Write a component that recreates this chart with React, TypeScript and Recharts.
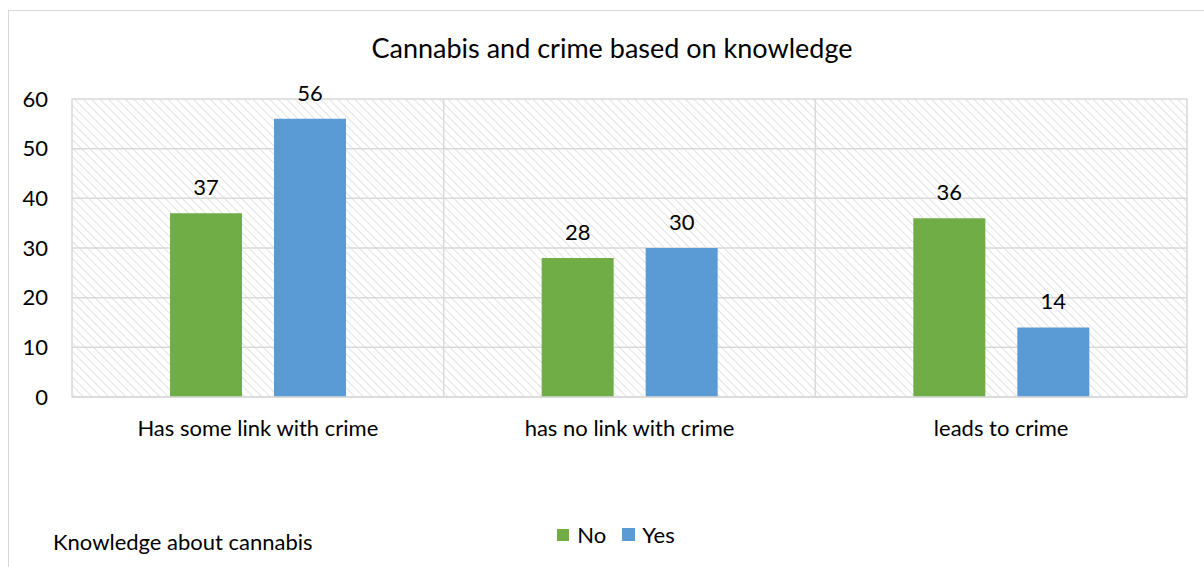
import {
  Bar,
  BarChart,
  CartesianGrid,
  LabelList,
  XAxis,
  YAxis,
} from "recharts";

const categories = ["Has some link with crime", "has no link with crime", "leads to crime"];
const noValues = [37, 28, 36];
const yesValues = [56, 30, 14];
const yTicks = [0, 10, 20, 30, 40, 50, 60];

const data = categories.map((name, i) => ({ name, No: noValues[i], Yes: yesValues[i] }));

const FONT = "Lato, 'Open Sans', sans-serif";
const GRID = "#d9d9d9";

const App = () => {
  return (
    <div style={{ position: "absolute", left: 0, top: 0, width: 1204, height: 567, background: "#fff", overflow: "hidden" }}>
      <div
        style={{
          position: "absolute",
          left: 8,
          top: 10,
          width: 1196,
          height: 600,
          borderLeft: `1px solid ${GRID}`,
          borderTop: `1px solid ${GRID}`,
        }}
      />
      <div
        style={{
          position: "absolute",
          left: 0,
          top: 31,
          width: 1224,
          textAlign: "center",
          fontFamily: FONT,
          fontSize: 27,
          color: "#000",
        }}
      >
        Cannabis and crime based on knowledge
      </div>
      <div style={{ position: "absolute", left: 53, top: 528, fontFamily: FONT, fontSize: 22, color: "#000" }}>
        Knowledge about cannabis
      </div>
      {/* legend */}
      <div
        style={{
          position: "absolute",
          left: 0,
          top: 521,
          width: 1232,
          display: "flex",
          justifyContent: "center",
          alignItems: "center",
          fontFamily: FONT,
          fontSize: 22,
          color: "#000",
        }}
      >
        <span style={{ width: 12, height: 12, background: "#70ad47", display: "inline-block", marginRight: 8 }} />
        <span style={{ marginRight: 16 }}>No</span>
        <span style={{ width: 13, height: 13, background: "#5b9bd5", display: "inline-block", marginRight: 7 }} />
        <span>Yes</span>
      </div>
      <div style={{ position: "absolute", left: 0, top: 0 }}>
        <BarChart
          width={1204}
          height={567}
          data={data}
          margin={{ top: 99, right: 17, left: 22, bottom: 140 }}
          barSize={72}
          barGap={32}
        >
          <defs>
            <pattern id="hatch" width="6" height="6" patternUnits="userSpaceOnUse" patternTransform="rotate(-45)">
              <rect width="6" height="6" fill="#fff" />
              <line x1="0" y1="0" x2="0" y2="6" stroke="#e2e2e2" strokeWidth="2" />
            </pattern>
          </defs>
          <CartesianGrid
            fill="url(#hatch)"
            stroke={GRID}
            strokeWidth={1.5}
            verticalCoordinatesGenerator={({ offset }: any) =>
              [0, 1, 2, 3].map((i) => offset.left + (offset.width * i) / categories.length)
            }
          />
          <XAxis
            dataKey="name"
            height={30}
            tickLine={false}
            tickSize={0}
            tickMargin={23}
            axisLine={{ stroke: GRID, strokeWidth: 1.5 }}
            tick={{ fill: "#000", fontFamily: FONT, fontSize: 22 }}
          />
          <YAxis
            width={50}
            domain={[0, 60]}
            ticks={yTicks}
            tickLine={false}
            axisLine={false}
            tickSize={0}
            tickMargin={24}
            tick={{ fill: "#000", fontFamily: FONT, fontSize: 22 }}
          />
          <Bar dataKey="No" fill="#70ad47" isAnimationActive={false}>
            <LabelList dataKey="No" position="top" offset={18} style={{ fill: "#000", fontFamily: FONT, fontSize: 22 }} />
          </Bar>
          <Bar dataKey="Yes" fill="#5b9bd5" isAnimationActive={false}>
            <LabelList dataKey="Yes" position="top" offset={18} style={{ fill: "#000", fontFamily: FONT, fontSize: 22 }} />
          </Bar>
        </BarChart>
      </div>
    </div>
  );
};

export default App;
